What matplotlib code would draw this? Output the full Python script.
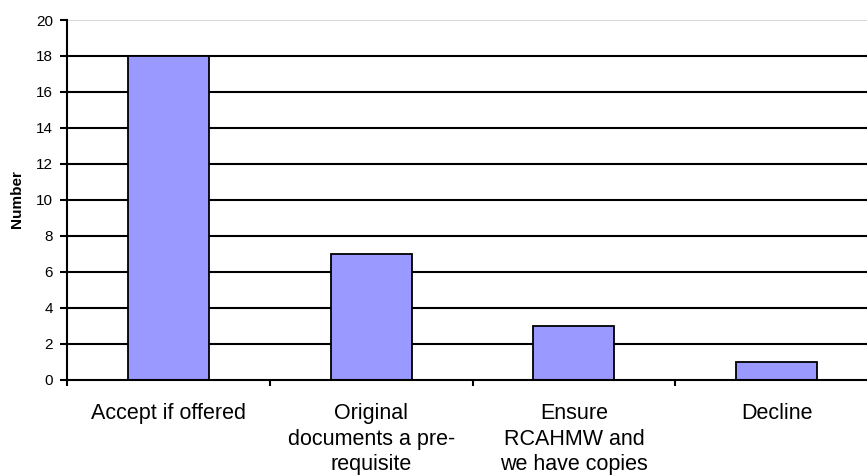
import numpy as np
import matplotlib
matplotlib.use("Agg")
import matplotlib.pyplot as plt

plt.rcParams['font.family'] = ['Liberation Sans', 'DejaVu Sans']

# data
categories = ["Accept if offered", "Original\ndocuments a pre-\nrequisite",
              "Ensure\nRCAHMW and\nwe have copies", "Decline"]
values = [18, 7, 3, 1]
yticks = np.arange(0, 21, 2)

fig = plt.figure(figsize=(8.67, 4.76), dpi=100)
ax = fig.add_axes([67/867, 96.5/476, 811/867, 359.5/476])

x = np.arange(len(categories))
ax.bar(x, values, width=0.4, color="#9999FF", edgecolor="black", linewidth=1.3, zorder=3)

# gridlines
for v in yticks[1:]:
    col = "#d9d9d9" if v == 20 else "black"
    ax.axhline(v, color=col, linewidth=1.5, zorder=1)

ax.set_xlim(-0.5, len(categories) - 0.5)
ax.set_ylim(0, 20)

for s in ["top", "right"]:
    ax.spines[s].set_visible(False)
for s in ["left", "bottom"]:
    ax.spines[s].set_linewidth(1.5)
    ax.spines[s].set_zorder(4)

ax.set_yticks(yticks)
ax.tick_params(axis="y", length=5, width=1.5, pad=5, labelsize=11)

# boundary ticks (major) and centred labels (minor)
ax.set_xticks(np.arange(len(categories)) - 0.5)
ax.set_xticklabels([])
ax.tick_params(axis="x", which="major", length=4.5, width=1.5)
ax.set_xticks(x, minor=True)
ax.set_xticklabels(categories, minor=True, fontsize=15.5, linespacing=1.28)
ax.tick_params(axis="x", which="minor", length=0, pad=17)

fig.text(17/867, 1 - 199/476, "Number", rotation=90, ha="center", va="center",
         fontsize=11, fontweight="bold")

fig.savefig("out.png", dpi=100)
